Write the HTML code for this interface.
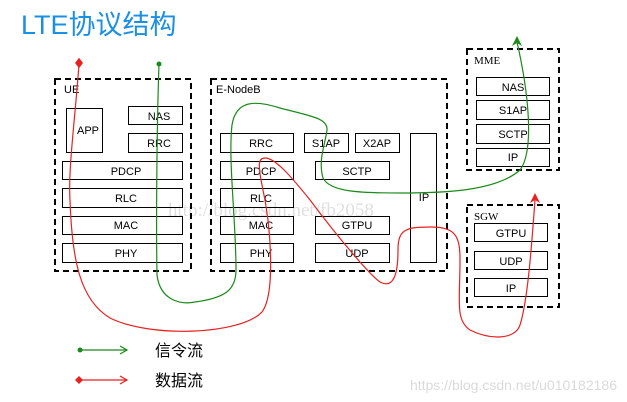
<!DOCTYPE html>
<html><head><meta charset="utf-8"><style>
html,body{margin:0;padding:0;background:#fff;}
svg{display:block;}
</style></head><body>
<svg width="627" height="402" viewBox="0 0 627 402" xmlns="http://www.w3.org/2000/svg" font-family="Liberation Sans, Arial, sans-serif">
<text x="21" y="34" font-size="27" fill="#1a8fe3" font-family="Liberation Sans, 'Noto Sans CJK SC', sans-serif">LTE协议结构</text>
<g fill="none" stroke="#000" stroke-width="2" stroke-dasharray="6,4">
<rect x="55" y="79" width="136" height="192"/>
<rect x="211" y="79" width="236" height="192"/>
<rect x="467" y="49" width="92" height="121"/>
<rect x="467" y="205" width="92" height="102"/>
</g>
<g font-size="11" fill="#000">
<text x="64" y="93">UE</text>
<text x="216" y="93">E-NodeB</text>
<text x="474" y="64" font-family="Liberation Serif, serif">MME</text>
<text x="474" y="220" font-family="Liberation Serif, serif">SGW</text>
</g>
<g fill="#fff" stroke="#000" stroke-width="1">
<rect x="66.5" y="108.5" width="36" height="44"/>
<rect x="128.5" y="106.5" width="54" height="18"/>
<rect x="128.5" y="133.5" width="54" height="19"/>
<rect x="62.5" y="161.5" width="120" height="18"/>
<rect x="62.5" y="188.5" width="120" height="19"/>
<rect x="62.5" y="216.5" width="120" height="18"/>
<rect x="62.5" y="243.5" width="120" height="19"/>
<rect x="220.5" y="133.5" width="73" height="19"/>
<rect x="304.5" y="133.5" width="44" height="19"/>
<rect x="355.5" y="133.5" width="44" height="19"/>
<rect x="220.5" y="161.5" width="73" height="18"/>
<rect x="315.5" y="161.5" width="74" height="18"/>
<rect x="220.5" y="188.5" width="73" height="19"/>
<rect x="220.5" y="216.5" width="73" height="18"/>
<rect x="315.5" y="216.5" width="74" height="18"/>
<rect x="220.5" y="243.5" width="73" height="19"/>
<rect x="315.5" y="243.5" width="74" height="19"/>
<rect x="410.5" y="133.5" width="26" height="129"/>
<rect x="476.5" y="77.5" width="73" height="18"/>
<rect x="476.5" y="100.5" width="73" height="19"/>
<rect x="476.5" y="124.5" width="73" height="19"/>
<rect x="476.5" y="148.5" width="73" height="18"/>
<rect x="474.5" y="223.5" width="73" height="18"/>
<rect x="474.5" y="251.5" width="73" height="18"/>
<rect x="474.5" y="278.5" width="73" height="18"/>
</g>
<g font-size="11" fill="#000" text-anchor="middle">
<text x="88" y="134">APP</text>
<text x="159" y="120">NAS</text>
<text x="159" y="147">RRC</text>
<text x="126" y="175">PDCP</text>
<text x="126" y="202">RLC</text>
<text x="126" y="229">MAC</text>
<text x="126" y="257">PHY</text>
<text x="261" y="147">RRC</text>
<text x="326" y="147">S1AP</text>
<text x="377" y="147">X2AP</text>
<text x="261" y="175">PDCP</text>
<text x="357" y="175">SCTP</text>
<text x="261" y="202">RLC</text>
<text x="261" y="229">MAC</text>
<text x="357" y="229">GTPU</text>
<text x="261" y="257">PHY</text>
<text x="357" y="257">UDP</text>
<text x="424" y="201">IP</text>
<text x="513" y="91">NAS</text>
<text x="513" y="114">S1AP</text>
<text x="513" y="138">SCTP</text>
<text x="513" y="161">IP</text>
<text x="511" y="237">GTPU</text>
<text x="511" y="265">UDP</text>
<text x="511" y="292">IP</text>
</g>
<text x="168" y="216" font-size="19" fill="#000" fill-opacity="0.13" font-family="Liberation Serif, serif">http://blog.csdn.net/fb2058</text>
<path d="M159,64 C157,120 156,220 157,275 C160,300 180,305 195,302 C225,298 236,290 236,270 C236,220 228,160 232,125 C236,100 255,100 280,108 C310,116 328,118 327,130 C325,145 318,160 323,178 C330,192 360,193 400,193 C440,193 495,192 520,170 C535,150 528,90 517,42" fill="none" stroke="#1a8a1a" stroke-width="1.2"/>
<polygon points="517,36 512,46 517,43 522,46" fill="#1a8a1a"/>
<circle cx="159" cy="64" r="2.5" fill="#1a8a1a"/>
<path d="M79,64 C75,120 68,170 70,200 C72,260 80,300 110,318 C150,338 240,335 262,312 C275,295 272,230 262,185 C258,165 258,158 265,158 C275,158 290,175 310,200 C340,240 370,275 380,282 C395,290 398,270 398,250 C398,230 405,227 430,227 C455,227 460,235 460,260 C460,300 455,320 470,330 C490,340 515,340 520,325 C528,300 532,240 535,200" fill="none" stroke="#e82020" stroke-width="1.2"/>
<polygon points="535,193 530,203 535,200 540,203" fill="#e82020"/>
<polygon points="79,59 82,63 79,67 76,63" fill="#e82020" stroke="#e82020" stroke-width="1.5"/>
<line x1="79" y1="350" x2="127" y2="350" stroke="#1a8a1a" stroke-width="1.2"/>
<circle cx="80" cy="350" r="2.5" fill="#1a8a1a"/>
<polyline points="120,346 127,350 120,354" fill="none" stroke="#1a8a1a" stroke-width="1.2"/>
<line x1="79" y1="380" x2="127" y2="380" stroke="#e82020" stroke-width="1.2"/>
<polygon points="79,376 83,380 79,384 75,380" fill="#e82020"/>
<polyline points="120,376 127,380 120,384" fill="none" stroke="#e82020" stroke-width="1.2"/>
<g font-size="16" fill="#000" font-family="'Noto Sans CJK SC', sans-serif">
<text x="155" y="356">信令流</text>
<text x="155" y="386">数据流</text>
</g>
<text x="617" y="390" text-anchor="end" font-size="14" fill="#000" fill-opacity="0.15">https://blog.csdn.net/u010182186</text>
</svg>
</body></html>
